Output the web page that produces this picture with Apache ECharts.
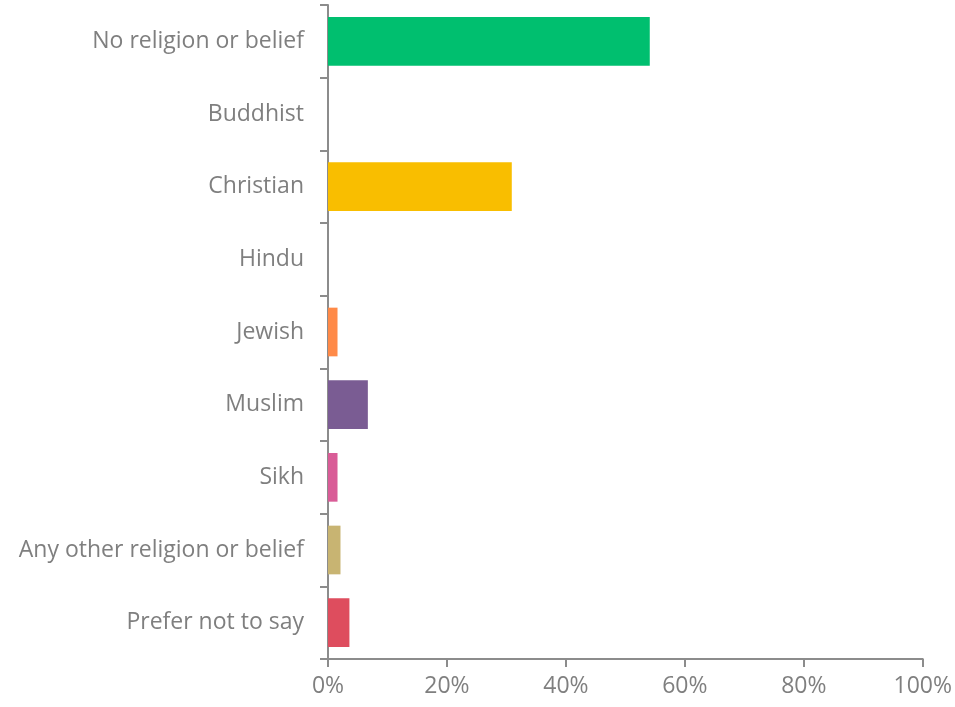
<!DOCTYPE html>
<html>
<head>
<meta charset="utf-8">
<script src="https://cdn.jsdelivr.net/npm/echarts@6/dist/echarts.min.js"></script>
<style>
html,body{margin:0;padding:0;background:#fff;}
#chart{width:955px;height:707px;}
</style>
</head>
<body>
<div id="chart"></div>
<script>
const categories = ["No religion or belief","Buddhist","Christian","Hindu","Jewish","Muslim","Sikh","Any other religion or belief","Prefer not to say"];
const values = [54.1, 0, 30.9, 0, 1.6, 6.7, 1.6, 2.1, 3.6];
const colors = ["#00BF6F","#00BF6F","#F9BE00","#F9BE00","#FF8A48","#7A5C93","#D95C97","#C8B472","#DE4D5E"];
const xTicks = [0,20,40,60,80,100];

const chart = echarts.init(document.getElementById('chart'), null, {renderer:'canvas'});
chart.setOption({
  animation:false,
  grid:{left:328,right:32,top:5,bottom:48,containLabel:false},
  xAxis:{
    type:'value',min:xTicks[0],max:xTicks[xTicks.length-1],interval:xTicks[1]-xTicks[0],
    splitLine:{show:false},
    axisLine:{show:true,lineStyle:{color:'#8c8c8c',width:2}},
    axisTick:{show:true,length:8,lineStyle:{color:'#8c8c8c',width:2}},
    axisLabel:{color:'#7f7f7f',fontSize:23,fontFamily:'Open Sans',margin:16,formatter:v=>v+'%'}
  },
  yAxis:{
    type:'category',data:categories,inverse:true,
    axisLine:{show:true,lineStyle:{color:'#8c8c8c',width:2}},
    axisTick:{show:true,length:8,lineStyle:{color:'#8c8c8c',width:2}},
    axisLabel:{color:'#7f7f7f',fontSize:23,fontFamily:'Open Sans',margin:24}
  },
  series:[{
    type:'bar',
    data:values.map((v,i)=>({value:v,itemStyle:{color:colors[i]}})),
    barCategoryGap:'33%'
  }]
});
</script>
</body>
</html>
